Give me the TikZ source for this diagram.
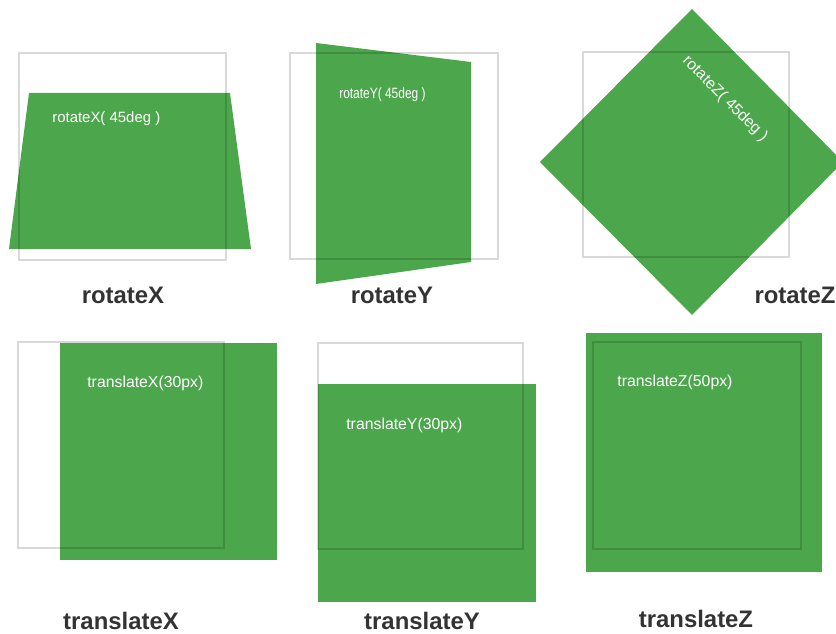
\documentclass[tikz,border=0pt]{standalone}
\usepackage{fontspec}
\setmainfont{Liberation Sans}
\definecolor{planegreen}{HTML}{4CA64C}
\definecolor{labelgray}{HTML}{333333}

\begin{document}
\begin{tikzpicture}[x=0.02cm,y=-0.02cm]
  \tikzset{plane/.style={fill=planegreen, draw=none}}
  \tikzset{frame/.style={draw=black, draw opacity=0.15, line width=0.75pt}}
  \tikzset{tag/.style={text=white, font=\fontsize{8.5}{10}\selectfont, inner sep=0pt}}
  \tikzset{caption/.style={text=labelgray, font=\bfseries\fontsize{13.6}{16}\selectfont, inner sep=0pt}}
  \useasboundingbox (0,0) rectangle (836,634);
  % rotateX
  \fill[plane] (29,93) -- (230,93) -- (251,249) -- (9,249) -- cycle;
  \draw[frame] (19,53) rectangle (226,260);
  \node[tag, anchor=west] (tagrx) at (52,119) {rotateX( 45deg )};
  \node[caption] (caprx) at (123,295) {rotateX};
  % rotateY
  \fill[plane] (316,43) -- (471,62) -- (471,262) -- (316,284) -- cycle;
  \draw[frame] (290,53) rectangle (498,259);
  \node[tag, anchor=west, xscale=0.8] (tagry) at (339,95) {rotateY( 45deg )};
  \node[caption] (capry) at (392,295) {rotateY};
  % rotateZ
  \fill[plane] (692,9) -- (843,162) -- (692,315) -- (540,162) -- cycle;
  \draw[frame] (583,52) rectangle (789,257);
  \node[tag, rotate=-45, font=\fontsize{9}{10}\selectfont] (tagrz) at (725,99) {rotateZ( 45deg )};
  \node[caption] (caprz) at (795,295) {rotateZ};
  % translateX
  \fill[plane] (60,343) rectangle (277,560);
  \draw[frame] (18,342) rectangle (224,548);
  \node[tag, anchor=west, font=\fontsize{9}{10}\selectfont] (tagtx) at (87,383) {translateX(30px)};
  \node[caption] (captx) at (121,621) {translateX};
  % translateY
  \fill[plane] (318,384) rectangle (536,602);
  \draw[frame] (318,343) rectangle (523,549);
  \node[tag, anchor=west, font=\fontsize{9}{10}\selectfont] (tagty) at (346,425) {translateY(30px)};
  \node[caption] (capty) at (422,621) {translateY};
  % translateZ
  \fill[plane] (586,333) rectangle (822,572);
  \draw[frame] (593,342) rectangle (801,549);
  \node[tag, anchor=west, font=\fontsize{9}{10}\selectfont] (tagtz) at (617,382) {translateZ(50px)};
  \node[caption] (captz) at (696,619) {translateZ};
\end{tikzpicture}
\end{document}
